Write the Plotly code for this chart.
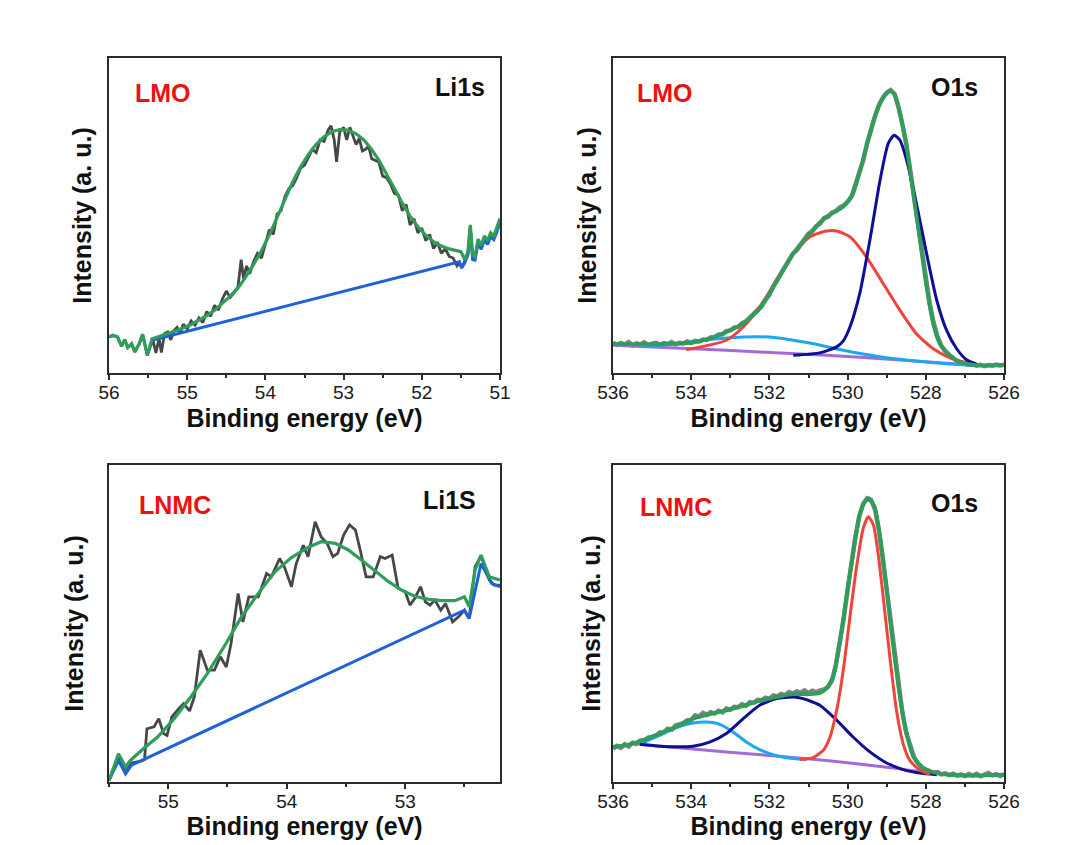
import plotly.graph_objects as go

# ---------------- Panel (a): LMO, Li1s ----------------
lmo_li_be = [56.00, 55.95, 55.89, 55.84, 55.80, 55.76, 55.71, 55.67, 55.61, 55.57, 55.51, 55.47, 55.44,
             55.40, 55.36, 55.33, 55.29, 55.25, 55.21, 55.17, 55.13, 55.09, 55.05, 55.00, 54.95, 54.90,
             54.85, 54.80, 54.75, 54.70, 54.65, 54.60, 54.55, 54.50, 54.45, 54.40, 54.35, 54.31, 54.28,
             54.24, 54.20, 54.15, 54.10, 54.05, 54.00, 53.95, 53.90, 53.85, 53.80, 53.75, 53.70, 53.65,
             53.60, 53.55, 53.50, 53.45, 53.40, 53.35, 53.30, 53.25, 53.20, 53.16, 53.12, 53.09, 53.05,
             53.00, 52.96, 52.92, 52.88, 52.84, 52.80, 52.76, 52.72, 52.68, 52.64, 52.60, 52.55, 52.50,
             52.45, 52.40, 52.35, 52.30, 52.25, 52.20, 52.15, 52.10, 52.05, 52.00, 51.95, 51.90, 51.85,
             51.80, 51.75, 51.70, 51.65, 51.60, 51.55, 51.52, 51.49, 51.45, 51.41, 51.38, 51.35, 51.32,
             51.28, 51.24, 51.20, 51.16, 51.12, 51.08, 51.04, 51.00]
lmo_li_data = [11.4, 12.0, 11.4, 8.5, 10.6, 8.1, 9.3, 6.7, 9.5, 12.3, 5.6, 8.8, 10.6,
               6.4, 11.0, 6.5, 12.5, 13.0, 10.5, 13.5, 14.5, 12.5, 15.5, 14.0, 16.5, 15.2,
               17.5, 16.0, 19.5, 18.0, 21.5, 20.0, 23.5, 26.0, 24.0, 25.5, 27.5, 36.0, 30.0,
               34.0, 31.5, 35.5, 38.0, 36.5, 41.0, 45.5, 44.0, 50.5, 51.5, 56.0, 58.5, 59.5,
               62.0, 65.0, 66.0, 68.5, 71.0, 70.0, 74.0, 73.5, 77.0, 78.5, 74.0, 67.0, 76.5,
               78.0, 74.0, 78.0, 75.0, 72.5, 74.5, 70.5, 71.0, 72.0, 68.0, 67.5, 67.0, 62.5,
               62.0, 60.0, 57.0, 56.5, 51.5, 53.5, 47.0, 49.0, 44.5, 46.0, 42.0, 44.0, 39.5,
               41.5, 38.0, 39.5, 37.0, 36.5, 34.0, 35.0, 33.5, 35.5, 38.0, 46.5, 37.0, 36.5,
               42.0, 40.0, 43.0, 41.5, 44.0, 43.0, 45.5, 48.5]
lmo_li_env_be = [56.00, 55.95, 55.89, 55.84, 55.80, 55.76, 55.71, 55.67, 55.61, 55.57, 55.51, 55.47,
                 55.45, 55.35, 55.25, 55.15, 55.05, 54.95, 54.85, 54.75, 54.65, 54.55, 54.45, 54.35,
                 54.25, 54.15, 54.05, 53.95, 53.85, 53.75, 53.65, 53.55, 53.45, 53.35, 53.25, 53.15,
                 53.05, 52.95, 52.85, 52.75, 52.65, 52.55, 52.45, 52.35, 52.25, 52.15, 52.05, 51.95,
                 51.85, 51.75, 51.65, 51.55, 51.50,
                 51.45, 51.41, 51.38, 51.35, 51.32, 51.28, 51.24, 51.20, 51.16, 51.12, 51.08, 51.04, 51.00]
lmo_li_env = [11.4, 12.0, 11.4, 8.5, 10.6, 8.1, 9.3, 6.7, 9.5, 12.3, 5.6, 8.8,
              10.9, 11.7, 12.5, 13.3, 14.3, 15.4, 16.7, 18.2, 19.9, 22.0, 24.4, 27.0,
              30.5, 34.5, 38.8, 43.8, 49.6, 55.1, 60.7, 65.5, 69.4, 72.6, 75.0, 76.6,
              77.3, 77.1, 76.1, 74.2, 71.3, 67.6, 63.3, 58.6, 54.0, 49.8, 46.4, 43.8,
              41.7, 40.3, 39.4, 38.8, 38.5,
              36.0, 38.5, 47.0, 37.5, 37.0, 42.5, 40.5, 43.5, 42.0, 44.5, 43.5, 46.0, 49.0]
lmo_li_bg_be = [55.45, 51.52, 51.49, 51.45, 51.41, 51.38, 51.35, 51.32, 51.28, 51.24, 51.20, 51.16,
                51.12, 51.08, 51.04, 51.00]
lmo_li_bg = [10.4, 35.3, 33.3, 35.0, 37.5, 45.5, 36.0, 35.8, 41.2, 39.3, 42.2, 40.8,
             43.2, 42.3, 44.8, 47.8]

# ---------------- Panel (b): LMO, O1s ----------------
o1s_be = [536.0 - 0.1 * i for i in range(101)]
lmo_o_data = [9.6, 8.9, 9.5, 9.0, 9.8, 8.7, 9.4, 9.1, 9.7, 8.8,
              9.3, 9.6, 9.0, 9.5, 9.2, 9.8, 9.1, 9.6, 9.4, 10.0,
              9.5, 10.2, 10.0, 10.6, 10.5, 11.3, 11.4, 12.2, 12.3, 13.3,
              13.5, 14.4, 14.6, 15.8, 16.4, 17.6, 18.5, 20.0, 21.2, 23.2,
              24.8, 27.5, 29.6, 31.3, 33.6, 35.4, 37.9, 39.0, 40.8, 42.0,
              44.2, 45.0, 46.6, 47.5, 49.2, 49.6, 50.9, 51.4, 52.6, 53.2,
              54.3, 56.0, 59.6, 63.8, 67.5, 73.0, 77.8, 81.5, 85.0, 87.4,
              89.0, 89.8, 88.6, 84.5, 79.0, 72.8, 64.5, 55.5, 46.5, 37.5,
              29.2, 22.0, 16.0, 11.5, 8.6, 6.8, 5.7, 4.7, 3.8, 3.4,
              3.0, 2.6, 2.7, 2.3, 2.6, 2.2, 2.5, 2.3, 2.7, 2.4, 2.6]
lmo_o_env_be = [536.00, 535.23, 534.38, 533.95, 533.53, 533.10, 532.67, 532.25, 531.82, 531.39,
                530.97, 530.54, 530.11, 529.86, 529.69, 529.52, 529.34, 529.17, 529.00, 528.90,
                528.79, 528.66, 528.49, 528.32, 528.15, 527.98, 527.81, 527.64, 527.38, 527.13,
                526.78, 526.44, 526.00]
lmo_o_env = [9.3, 9.1, 9.3, 9.7, 10.9, 13.0, 15.7, 20.4, 28.9, 37.9,
             44.3, 49.6, 52.8, 57.0, 63.9, 71.8, 79.8, 85.6, 88.8, 89.6,
             88.2, 82.4, 71.8, 57.0, 42.2, 27.3, 15.7, 9.3, 5.6, 3.5,
             2.6, 2.4, 2.5]
lmo_o_bg_be = [536.00, 533.10, 530.54, 528.83, 527.12, 526.74]
lmo_o_bg = [8.8, 7.2, 5.6, 4.3, 2.8, 2.4]
lmo_o_p1_be = [535.23, 534.38, 533.53, 532.67, 532.25, 531.82, 530.97, 530.11, 529.26, 528.41, 527.55, 526.78]
lmo_o_p1 = [8.3, 9.3, 10.6, 11.4, 11.5, 11.2, 9.5, 7.2, 5.3, 4.0, 3.0, 2.4]
lmo_o_p2_be = [534.12, 533.10, 532.67, 532.25, 531.82, 531.39, 530.97, 530.54, 530.28, 529.94,
               529.52, 529.09, 528.66, 528.24, 527.81, 527.38, 526.96, 526.74]
lmo_o_p2 = [7.4, 10.4, 14.6, 21.0, 29.4, 37.9, 43.2, 45.1, 45.1, 43.2,
            36.9, 28.4, 19.9, 12.5, 7.7, 4.8, 3.2, 2.4]
lmo_o_p3_be = [531.39, 530.71, 530.28, 530.11, 529.94, 529.69, 529.43, 529.17, 528.96, 528.81, 528.66,
               528.49, 528.24, 527.98, 527.72, 527.47, 527.21, 526.96, 526.70]
lmo_o_p3 = [5.6, 6.4, 8.3, 10.2, 14.6, 25.2, 42.2, 61.2, 72.9, 75.5, 73.9,
            67.6, 53.8, 37.9, 23.1, 13.6, 7.7, 4.2, 2.8]

# ---------------- Panel (c): LNMC, Li1s ----------------
lnmc_li_be = [55.50, 55.42, 55.36, 55.31, 55.23, 55.20, 55.18, 55.12, 55.08, 55.04, 55.01, 54.97,
              54.91, 54.87, 54.82, 54.78, 54.73, 54.67, 54.61, 54.56, 54.51, 54.47, 54.41, 54.37,
              54.32, 54.24, 54.17, 54.13, 54.06, 54.02, 53.96, 53.92, 53.86, 53.82, 53.76, 53.71,
              53.66, 53.61, 53.57, 53.52, 53.47, 53.42, 53.38, 53.33, 53.27, 53.21, 53.17, 53.11,
              53.06, 53.00, 52.96, 52.92, 52.87, 52.83, 52.79, 52.75, 52.70, 52.66, 52.60, 52.55,
              52.50, 52.46, 52.41, 52.36, 52.29, 52.25, 52.20]
lnmc_li_data = [0.5, 7.9, 3.2, 6.0, 6.6, 7.1, 16.8, 17.4, 20.0, 15.3, 14.7, 20.5,
                23.2, 24.7, 22.4, 26.8, 41.6, 35.3, 35.3, 39.5, 36.3, 43.7, 59.5, 50.5,
                58.4, 58.4, 65.8, 64.7, 70.5, 67.9, 61.6, 68.9, 74.7, 71.1, 82.1, 77.4,
                75.3, 71.1, 72.1, 77.9, 81.1, 79.5, 73.2, 64.7, 64.7, 71.1, 70.5, 71.6,
                61.1, 60.0, 55.8, 57.9, 61.6, 56.8, 55.8, 57.4, 54.2, 56.3, 50.5, 52.1,
                54.2, 51.6, 67.9, 71.3, 63.7, 62.1, 62.1]
lnmc_li_env_be = [55.50, 55.42, 55.36, 55.32, 55.21, 55.09, 54.95, 54.81, 54.67, 54.53, 54.39,
                  54.24, 54.10, 53.96, 53.82, 53.71, 53.59, 53.48, 53.37, 53.25, 53.14, 53.03,
                  52.92, 52.80, 52.69, 52.58, 52.50, 52.46, 52.41, 52.36, 52.29, 52.20]
lnmc_li_env = [0.5, 8.9, 4.7, 6.8, 10.5, 14.2, 20.0, 26.8, 34.2, 42.6, 51.6,
               59.5, 66.3, 70.8, 74.0, 75.8, 75.3, 73.2, 70.0, 66.3, 63.2, 60.5,
               58.6, 57.6, 57.2, 57.2, 58.4, 55.3, 66.8, 71.6, 64.7, 63.7]
lnmc_li_bg_be = [55.50, 55.42, 55.36, 55.31, 52.50, 52.46, 52.36, 52.27, 52.20]
lnmc_li_bg = [0.5, 6.8, 2.6, 5.3, 54.2, 51.6, 68.9, 62.6, 61.6]

# ---------------- Panel (d): LNMC, O1s ----------------
lnmc_o_data = [10.5, 11.4, 10.8, 11.9, 11.2, 12.4, 12.0, 13.1, 13.0, 14.0,
               14.2, 14.6, 15.6, 15.7, 16.8, 16.5, 17.8, 18.2, 18.6, 19.5,
               19.6, 21.0, 20.6, 21.8, 21.2, 22.0, 21.6, 22.5, 22.0, 23.2,
               22.8, 23.7, 23.6, 24.5, 24.0, 25.2, 25.0, 25.9, 25.8, 26.6,
               26.2, 27.3, 27.0, 27.8, 27.4, 28.4, 27.9, 28.6, 28.2, 28.9,
               28.0, 28.8, 28.3, 28.9, 29.2, 30.0, 32.0, 37.0, 43.5, 51.5,
               60.5, 69.5, 77.5, 84.0, 87.8, 89.5, 89.0, 86.0, 79.5, 70.5,
               60.5, 50.0, 39.5, 30.0, 22.0, 15.5, 11.0, 7.8, 5.8, 4.6,
               3.9, 3.4, 2.9, 3.1, 2.4, 2.7, 2.2, 2.6, 2.0, 2.4,
               1.9, 2.5, 2.0, 2.6, 1.8, 2.3, 2.8, 2.1, 2.5, 1.9, 2.4]
lnmc_o_env_be = [536.00, 535.66, 535.23, 534.81, 534.38, 533.95, 533.53, 533.10, 532.67, 532.25,
                 531.82, 531.39, 530.97, 530.71, 530.54, 530.37, 530.20, 530.03, 529.86, 529.69,
                 529.56, 529.45, 529.31, 529.17, 529.00, 528.83, 528.66, 528.49, 528.32, 528.06,
                 527.72, 527.30, 526.70, 526.00]
lnmc_o_env = [11.1, 11.6, 13.2, 15.3, 17.4, 20.0, 21.4, 22.6, 24.0, 25.6,
              26.8, 27.7, 27.7, 28.1, 29.5, 33.2, 43.7, 58.4, 72.1, 84.2,
              88.4, 89.5, 86.8, 77.4, 60.5, 42.6, 26.8, 15.3, 8.1, 4.4,
              2.8, 2.2, 2.0, 2.3]
lnmc_o_bg_be = [535.32, 533.10, 530.54, 528.83, 527.72]
lnmc_o_bg = [11.9, 9.5, 6.8, 4.4, 2.4]
lnmc_o_p1_be = [535.32, 534.81, 534.38, 533.95, 533.61, 533.27, 532.93, 532.59, 532.25, 531.82, 531.39, 531.05]
lnmc_o_p1 = [11.9, 14.7, 17.2, 18.6, 18.9, 18.2, 15.8, 12.6, 10.2, 8.3, 7.4, 7.1]
lnmc_o_p2_be = [535.32, 534.81, 534.38, 533.95, 533.53, 533.10, 532.67, 532.25, 531.82, 531.39,
                531.14, 530.71, 530.28, 529.86, 529.43, 529.00, 528.58, 528.15, 527.72]
lnmc_o_p2 = [11.9, 11.3, 11.1, 11.3, 12.6, 15.3, 20.0, 24.2, 26.3, 26.8,
             26.3, 24.2, 19.5, 14.2, 9.5, 6.0, 3.9, 2.8, 2.3]
lnmc_o_p3_be = [531.22, 530.88, 530.62, 530.45, 530.28, 530.11, 529.94, 529.77, 529.60, 529.47,
                529.34, 529.22, 529.09, 528.92, 528.75, 528.58, 528.41, 528.15, 527.89]
lnmc_o_p3 = [7.1, 7.7, 10.0, 14.2, 22.6, 35.3, 52.1, 67.9, 80.0, 83.7,
             81.1, 72.1, 58.4, 39.5, 22.6, 12.1, 6.8, 3.7, 2.4]

# ---------------- styling ----------------
FONT = "Liberation Sans, Arial, sans-serif"
AX = "#2b2b2b"
GREEN = "#2e9e5a"
LIBLUE = "#1f62d8"
RED = "#ef433b"
NAVY = "#0f0f96"
CYAN = "#1ca7ee"
PURPLE = "#a66ad8"

fig = go.Figure()


def line(x, y, color, width, axis, smooth=False):
    ln = dict(color=color, width=width)
    if smooth:
        ln.update(shape="spline", smoothing=0.6)
    fig.add_trace(go.Scatter(x=x, y=y, mode="lines", line=ln,
                             xaxis="x" + axis, yaxis="y" + axis, showlegend=False, hoverinfo="skip"))


# panel a
line(lmo_li_be, lmo_li_data, "#474747", 2.8, "")
line(lmo_li_bg_be, lmo_li_bg, LIBLUE, 3, "")
line(lmo_li_env_be, lmo_li_env, GREEN, 3.2, "")
# panel b
line(o1s_be, lmo_o_data, "#808080", 4.5, "2")
line(lmo_o_bg_be, lmo_o_bg, PURPLE, 3, "2", True)
line(lmo_o_p1_be, lmo_o_p1, CYAN, 3, "2", True)
line(lmo_o_p2_be, lmo_o_p2, RED, 3, "2", True)
line(lmo_o_p3_be, lmo_o_p3, NAVY, 3, "2", True)
line(lmo_o_env_be, lmo_o_env, GREEN, 3.8, "2", True)
# panel c
line(lnmc_li_be, lnmc_li_data, "#474747", 2.8, "3")
line(lnmc_li_bg_be, lnmc_li_bg, LIBLUE, 3, "3")
line(lnmc_li_env_be, lnmc_li_env, GREEN, 3.2, "3")
# panel d
line(o1s_be, lnmc_o_data, "#808080", 4.5, "4")
line(lnmc_o_bg_be, lnmc_o_bg, PURPLE, 3, "4", True)
line(lnmc_o_p1_be, lnmc_o_p1, CYAN, 3, "4", True)
line(lnmc_o_p2_be, lnmc_o_p2, NAVY, 3, "4", True)
line(lnmc_o_p3_be, lnmc_o_p3, RED, 3, "4", True)
line(lnmc_o_env_be, lnmc_o_env, GREEN, 3.8, "4", True)

# the page body adds an 8 px offset; the figure fills the rest of the window
OFF = 8
W, H = 1068 - OFF, 845 - OFF


def fx(px):
    return (px - OFF) / W


def fy(py):
    return 1 - (py - OFF) / H


def xax(px0, px1, rng, anchor, standoff, major):
    return dict(domain=[fx(px0), fx(px1)], range=rng, anchor=anchor, automargin=False,
                showline=True, linecolor=AX, linewidth=1.5, mirror=True,
                ticks="outside", ticklen=5, tickwidth=1.5, tickcolor=AX, dtick=major, tick0=0,
                ticklabelstandoff=-4,
                minor=dict(dtick=major / 2, tick0=0, ticks="outside", ticklen=3, tickwidth=1.5, tickcolor=AX),
                showgrid=False, zeroline=False,
                tickfont=dict(family=FONT, size=19, color="#1a1a1a"),
                title=dict(text="<b>Binding energy (eV)</b>", standoff=standoff,
                           font=dict(family=FONT, size=25, color="#111111")))


def yax(py0, py1, anchor, standoff):
    return dict(domain=[fy(py1), fy(py0)], range=[0, 100], anchor=anchor, automargin=False,
                showline=True, linecolor=AX, linewidth=1.5, mirror=True,
                ticks="", showticklabels=False, showgrid=False, zeroline=False,
                title=dict(text="<b>Intensity (a. u.)</b>", standoff=standoff,
                           font=dict(family=FONT, size=25, color="#111111")))


fig.update_layout(
    width=W, height=H, margin=dict(l=0, r=0, t=0, b=0, autoexpand=False),
    paper_bgcolor="white", plot_bgcolor="white", showlegend=False,
    xaxis=xax(109, 500, [56, 51], "y", 8, 1),
    yaxis=yax(58, 373, "x", 9),
    xaxis2=xax(613, 1004, [536, 526], "y2", 8, 2),
    yaxis2=yax(58, 373, "x2", 8),
    xaxis3=xax(109, 500, [55.5, 52.2], "y3", 0, 1),
    yaxis3=yax(465, 782, "x3", 17),
    xaxis4=xax(613, 1004, [536, 526], "y4", 0, 2),
    yaxis4=yax(465, 782, "x4", 4),
)


def label(text, px, py, color, anchor):
    fig.add_annotation(text="<b>%s</b>" % text, x=fx(px), y=fy(py), xref="paper", yref="paper",
                       xanchor=anchor, yanchor="middle", showarrow=False,
                       font=dict(family=FONT, size=25, color=color))


label("LMO", 133, 93, "#ee1111", "left")
label("Li1s", 487, 87, "#111111", "right")
label("LMO", 635, 93, "#ee1111", "left")
label("O1s", 980, 87, "#111111", "right")
label("LNMC", 137, 505, "#ee1111", "left")
label("Li1S", 478, 500, "#111111", "right")
label("LNMC", 638, 507, "#ee1111", "left")
label("O1s", 980, 503, "#111111", "right")

fig.write_html("out.html")
